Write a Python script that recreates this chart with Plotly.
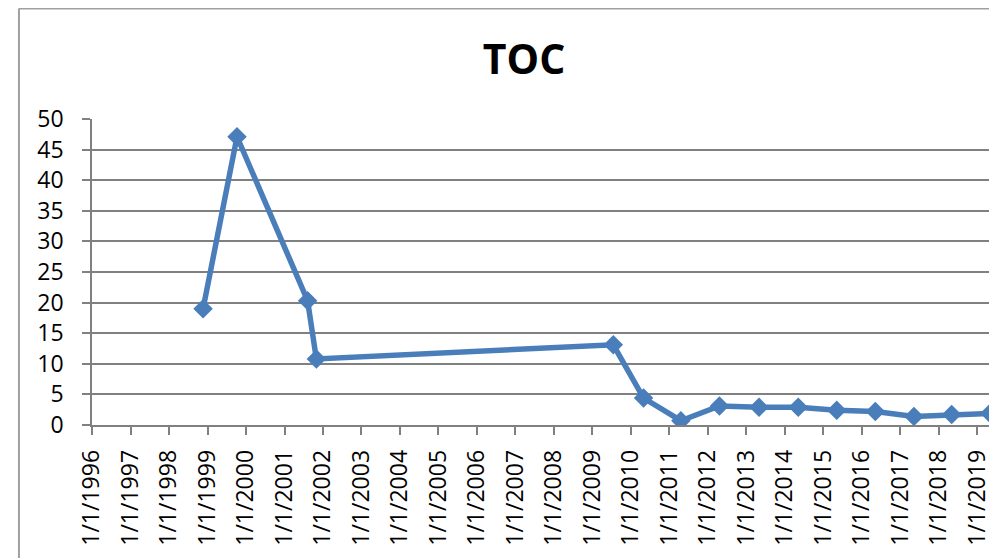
import plotly.graph_objects as go

# TOC readings (sample date, value)
dates = [
    "1998-11-20", "1999-10-08", "2001-08-08", "2001-10-30", "2009-07-18",
    "2010-05-01", "2011-04-20", "2012-04-20", "2013-05-01", "2014-05-08",
    "2015-05-08", "2016-05-08", "2017-05-10", "2018-05-03", "2019-05-01",
]
toc = [19.0, 47.1, 20.3, 10.8, 13.1, 4.4, 0.7, 3.1, 2.9, 2.9, 2.4, 2.2, 1.4, 1.7, 1.9]

x_range = ["1996-01-01", "2019-07-07"]
y_range = [0, 50]

blue = "#4a7ebb"
grid = "#808080"
font = "Open Sans"

fig = go.Figure()
fig.add_trace(go.Scatter(
    x=dates, y=toc, mode="lines+markers",
    line=dict(color=blue, width=5.5),
    marker=dict(symbol="diamond", size=15, color=blue),
    showlegend=False,
))

# the page puts the figure 8px in from the top-left, margins allow for it
fig.update_layout(
    width=997, height=558,
    margin=dict(l=84, r=8, t=111, b=141),
    paper_bgcolor="white", plot_bgcolor="white",
    font=dict(family=font, size=23, color="#000000"),
    title=dict(text="<b>TOC</b>", x=0.5176, xref="container", xanchor="center",
               y=0.907, yref="container", yanchor="middle",
               font=dict(family=font, size=41, color="#000000")),
)

fig.update_xaxes(
    type="date", range=x_range,
    tick0="1996-01-01", dtick="M12", tickformat="%-m/%-d/%Y",
    tickangle=-90, ticks="outside", ticklen=8, tickcolor=grid, tickwidth=1.5,
    ticklabelstandoff=6,
    showgrid=False, showline=True, linecolor=grid, linewidth=1.5,
    zeroline=False,
)
fig.update_yaxes(
    range=y_range, dtick=5,
    ticks="outside", ticklen=8, tickcolor=grid, tickwidth=1.5,
    ticklabelstandoff=14,
    showgrid=True, gridcolor=grid, gridwidth=1.5,
    showline=True, linecolor=grid, linewidth=1.5,
    zeroline=False,
)

# chart-area border (left and top edges visible in the crop)
fig.add_shape(type="line", xref="paper", yref="paper",
              x0=-0.0807, x1=-0.0807, y0=1.361, y1=-0.5,
              line=dict(color="#a0a0a0", width=2))
fig.add_shape(type="line", xref="paper", yref="paper",
              x0=-0.0807, x1=1.01, y0=1.361, y1=1.361,
              line=dict(color="#a0a0a0", width=2))

fig.write_html("out.html")
